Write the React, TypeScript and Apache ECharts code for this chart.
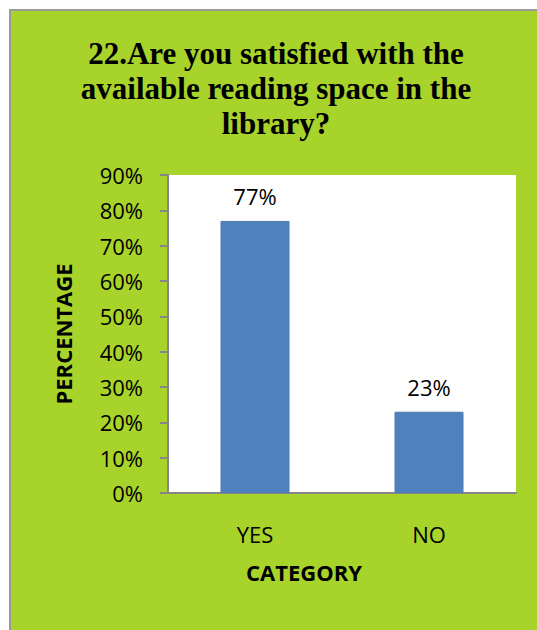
import React, { useEffect, useRef } from "react";
import * as echarts from "echarts";

const categories = ["YES", "NO"];
const values = [77, 23];
const yTicks = [0, 10, 20, 30, 40, 50, 60, 70, 80, 90];
const titleText = "22.Are you satisfied with the\navailable reading space in the\nlibrary?";
const yName = "PERCENTAGE";
const xName = "CATEGORY";

export default function App() {
  const ref = useRef<HTMLDivElement>(null);
  useEffect(() => {
    if (!ref.current) return;
    const chart = echarts.init(ref.current, null, { renderer: "svg" });
    const font = "'Open Sans', 'Noto Sans', sans-serif";
    chart.setOption({
      animation: false,
      backgroundColor: "#ffffff",
      graphic: [
        {
          type: "rect",
          z: -10,
          silent: true,
          shape: { x: 10, y: 10, width: 540, height: 640 },
          style: { fill: "#a8d32a", stroke: "#9a9a9a", lineWidth: 2 },
        },
        {
          type: "text",
          x: 304,
          y: 572,
          style: {
            text: xName,
            font: "bold 22px " + font,
            fill: "#000",
            align: "center",
            verticalAlign: "middle",
          },
        },
      ],
      title: {
        text: titleText,
        left: 271,
        top: 31,
        textAlign: "center",
        textStyle: {
          fontFamily: "'Liberation Serif', 'DejaVu Serif', serif",
          fontWeight: "bold",
          fontSize: 31,
          lineHeight: 35,
          color: "#000",
        },
      },
      grid: {
        left: 168,
        right: 21,
        top: 175,
        bottom: 137,
        show: true,
        backgroundColor: "#ffffff",
        borderWidth: 0,
      },
      xAxis: {
        type: "category",
        data: categories,
        axisLine: { lineStyle: { color: "#868686", width: 2 } },
        axisTick: { show: false },
        axisLabel: { margin: 30, fontSize: 22, fontFamily: font, color: "#000" },
      },
      yAxis: {
        type: "value",
        min: 0,
        max: 90,
        interval: 10,
        name: yName,
        nameLocation: "middle",
        nameGap: 94,
        nameRotate: 90,
        nameTextStyle: { fontSize: 22, fontWeight: "bold", fontFamily: font, color: "#000" },
        axisLine: { show: true, lineStyle: { color: "#868686", width: 2 } },
        axisTick: { show: true, length: 8, lineStyle: { color: "#868686", width: 2 } },
        splitLine: { show: false },
        axisLabel: {
          margin: 25,
          fontSize: 22,
          fontFamily: font,
          color: "#000",
          formatter: (v: number) => (yTicks.includes(v) ? v + "%" : ""),
        },
      },
      series: [
        {
          type: "bar",
          data: values,
          barWidth: 69,
          itemStyle: { color: "#4f81bd", borderColor: "#4a7ab5", borderWidth: 1 },
          label: {
            show: true,
            position: "top",
            distance: 14,
            fontSize: 22,
            fontFamily: font,
            color: "#000",
            formatter: (p: any) => p.value + "%",
          },
        },
      ],
    });
    return () => chart.dispose();
  }, []);
  return (
    <div
      ref={ref}
      style={{ position: "fixed", left: 0, top: 0, width: 537, height: 630 }}
    />
  );
}
